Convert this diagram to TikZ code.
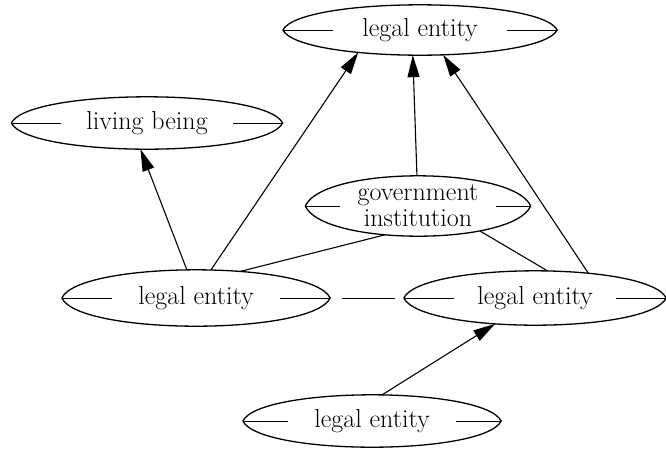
\documentclass[tikz,border=0pt]{standalone}
\usetikzlibrary{shapes.geometric,arrows.meta,calc}
\begin{document}
\begin{tikzpicture}[x=1pt,y=-1pt,
  ent/.style={ellipse, draw=none, inner sep=-12pt, minimum width=#1,
    minimum height=52pt, align=center,
    font=\fontsize{26}{26}\selectfont},
  outline/.style={line width=1.3pt},
  stub/.style={line width=0.8pt},
  link/.style={line width=1.1pt},
  isa/.style={link, -{Triangle[length=22pt,width=12pt]}}]
\useasboundingbox (0,0) rectangle (666,448);

% concept nodes
\node[ent=274pt, minimum height=50pt] (top)    at (420,30)  {legal entity};
\node[ent=271pt]                      (living) at (147,123) {living being};
\node[ent=225pt, minimum height=60pt] (gov)    at (418,206) {government\\institution};
\node[ent=268pt, minimum height=56pt] (left)   at (196,298) {legal entity};
\node[ent=262pt, minimum height=54pt] (right)  at (535,298) {legal entity};
\node[ent=258pt]                      (bottom) at (372,421) {legal entity};

% pointed outlines with the horizontal stubs at both ends
\foreach \n/\l in {top/50, living/50, gov/35, left/50, right/50, bottom/45} {
  \draw[outline]
    (\n.west) .. controls ($(\n.west)+(18,0)+1.333*(\n.north)-1.333*(\n.center)$)
                   and ($(\n.east)+(-18,0)+1.333*(\n.north)-1.333*(\n.center)$) .. (\n.east)
              .. controls ($(\n.east)+(-18,0)+1.333*(\n.south)-1.333*(\n.center)$)
                   and ($(\n.west)+(18,0)+1.333*(\n.south)-1.333*(\n.center)$) .. (\n.west);
  \draw[stub] (\n.west) -- ++(\l,0) (\n.east) -- ++(-\l,0);
}

% subtype arrows
\draw[isa] (left.108) -- (living.256);
\draw[isa] (left.62) -- (top.200);
\draw[isa] (gov.92) -- (top.254);
\draw[isa] (right.25) -- (top.-47);
\draw[isa] (bottom.69) -- (right.213);

% plain links
\draw[link] (gov.221) -- (left.31);
\draw[link] (gov.-22) -- (right.65);
\draw[stub, shorten <=12pt, shorten >=9pt] (left.east) -- (right.west);
\end{tikzpicture}
\end{document}
